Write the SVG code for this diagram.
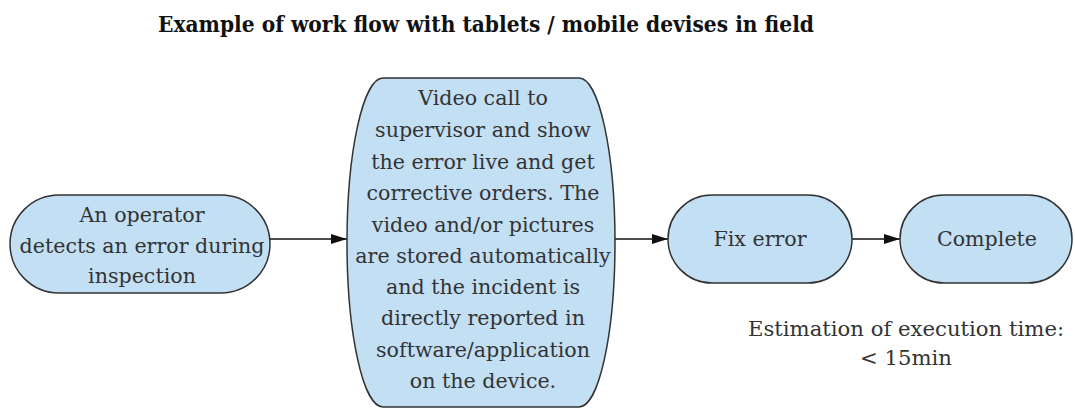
<svg xmlns="http://www.w3.org/2000/svg" width="1075" height="408" viewBox="0 0 1075 408">
  <style>
    .node { fill: #c2dff4; stroke: #333333; stroke-width: 1.5; }
    .lbl { font-family: "DejaVu Serif", serif; font-size: 20.6px; fill: #333333; text-anchor: middle; }
    .note { font-family: "DejaVu Serif", serif; font-size: 21.2px; fill: #333333; text-anchor: middle; }
    .title { font-family: "DejaVu Serif", serif; font-size: 23px; font-weight: bold; fill: #111111; text-anchor: middle; }
    .edge { stroke: #111111; stroke-width: 1.5; fill: none; marker-end: url(#arrow); }
  </style>
  <defs>
    <marker id="arrow" viewBox="0 0 16 10" refX="16" refY="5" markerWidth="16" markerHeight="10" markerUnits="userSpaceOnUse" orient="auto">
      <path d="M0,0 L16,5 L0,10 Z" fill="#111111"/>
    </marker>
  </defs>
  <rect width="1075" height="408" fill="#ffffff"/>

  <text class="title" x="486" y="32" textLength="656" lengthAdjust="spacingAndGlyphs">Example of work flow with tablets / mobile devises in field</text>

  <g id="connectors">
    <line class="edge" x1="270" y1="239" x2="347" y2="239"/>
    <line class="edge" x1="615" y1="239" x2="668" y2="239"/>
    <line class="edge" x1="852" y1="239" x2="900" y2="239"/>
  </g>

  <g id="detect">
    <rect class="node" x="10" y="195" width="260" height="98" rx="49" ry="49"/>
    <text class="lbl" x="142" y="222">An operator</text>
    <text class="lbl" x="142" y="253">detects an error during</text>
    <text class="lbl" x="142" y="283">inspection</text>
  </g>

  <g id="videocall">
    <rect class="node" x="347" y="78" width="268" height="329" rx="36" ry="164.5"/>
    <text class="lbl" x="483" y="105">Video call to</text>
    <text class="lbl" x="483" y="137">supervisor and show</text>
    <text class="lbl" x="483" y="169">the error live and get</text>
    <text class="lbl" x="483" y="200">corrective orders.  The</text>
    <text class="lbl" x="483" y="232">video and/or pictures</text>
    <text class="lbl" x="483" y="263">are stored automatically</text>
    <text class="lbl" x="483" y="294">and the incident is</text>
    <text class="lbl" x="483" y="325">directly reported in</text>
    <text class="lbl" x="483" y="357">software/application</text>
    <text class="lbl" x="483" y="388">on the device.</text>
  </g>

  <g id="fix">
    <rect class="node" x="668" y="195" width="184" height="88" rx="44" ry="44"/>
    <text class="lbl" x="760" y="246">Fix error</text>
  </g>

  <g id="complete">
    <rect class="node" x="900" y="195" width="172" height="88" rx="44" ry="44"/>
    <text class="lbl" x="987" y="246">Complete</text>
  </g>

  <g id="estimate">
    <text class="note" x="906" y="336">Estimation of execution time:</text>
    <text class="note" x="906" y="365">&lt; 15min</text>
  </g>
</svg>
